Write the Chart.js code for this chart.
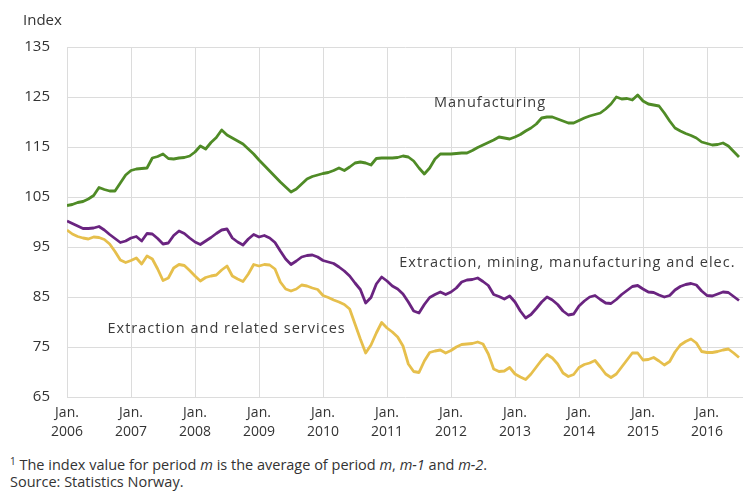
<!DOCTYPE html>
<html>
<head>
<meta charset="utf-8">
<script src="https://cdn.jsdelivr.net/npm/chart.js@4/dist/chart.umd.min.js"></script>
<style>
  body { margin: 0; background: #fff; font-family: "Open Sans", sans-serif; color: #333; }
  #wrap { position: relative; width: 743px; height: 491px; overflow: hidden; }
  #chart { position: absolute; left: 0; top: 0; }
  .note { position: absolute; left: 10px; font-size: 14.5px; white-space: nowrap; letter-spacing: 0px; line-height: 18px; }
  .note sup { font-size: 10px; line-height: 0; vertical-align: 5px; }
</style>
</head>
<body>
<div id="wrap">
  <canvas id="chart" width="743" height="450"></canvas>
  <div class="note" style="top:456px"><sup>1</sup> The index value for period <i>m</i> is the average of period <i>m</i>, <i>m-1</i> and <i>m-2</i>.</div>
  <div class="note" style="top:473px">Source: Statistics Norway.</div>
</div>
<script>
// monthly, Jan 2006 .. Jul 2016 (3-month moving average index)
const startYear = 2006;
const tickYears = [2006, 2007, 2008, 2009, 2010, 2011, 2012, 2013, 2014, 2015, 2016];
const yTicks = [65, 75, 85, 95, 105, 115, 125, 135];

const manufacturing = [
  103.3, 103.5, 103.9, 104.1, 104.6, 105.3, 106.9, 106.5, 106.2, 106.2, 107.8, 109.4,
  110.3, 110.6, 110.7, 110.8, 112.8, 113.1, 113.6, 112.7, 112.6, 112.8, 112.9, 113.2,
  114.0, 115.2, 114.6, 115.9, 116.9, 118.4, 117.4, 116.8, 116.2, 115.6, 114.6, 113.6,
  112.4, 111.3, 110.2, 109.1, 108.0, 107.0, 106.0, 106.6, 107.6, 108.6, 109.1, 109.4,
  109.7, 109.9, 110.3, 110.8, 110.3, 111.0, 111.8, 112.0, 111.8, 111.4, 112.7, 112.8,
  112.8, 112.8, 112.9, 113.2, 113.0, 112.2, 110.8, 109.6, 110.8, 112.6, 113.6, 113.6,
  113.6, 113.7, 113.8, 113.8, 114.3, 114.9, 115.4, 115.9, 116.4, 117.0, 116.8, 116.6,
  117.0, 117.5, 118.2, 118.8, 119.6, 120.8, 121.0, 121.0, 120.6, 120.2, 119.8, 119.8,
  120.3, 120.8, 121.2, 121.5, 121.8, 122.6, 123.6, 125.0, 124.6, 124.7, 124.4, 125.4,
  124.2, 123.6, 123.4, 123.2, 121.8, 120.2, 118.8, 118.2, 117.7, 117.3, 116.8, 116.0,
  115.7, 115.4, 115.5, 115.8, 115.2, 114.1, 113.0
];

const extractionMiningElec = [
  100.2, 99.7, 99.2, 98.7, 98.7, 98.8, 99.1, 98.4, 97.5, 96.7, 95.9, 96.2,
  96.8, 97.1, 96.2, 97.7, 97.6, 96.7, 95.6, 95.8, 97.3, 98.2, 97.7, 96.8,
  96.0, 95.5, 96.2, 96.9, 97.7, 98.4, 98.6, 96.8, 96.0, 95.4, 96.6, 97.5,
  97.0, 97.3, 96.8, 95.9, 94.2, 92.6, 91.5, 92.2, 93.0, 93.3, 93.4, 93.0,
  92.3, 92.0, 91.7, 91.0, 90.2, 89.2, 87.8, 86.5, 83.8, 84.9, 87.6, 89.0,
  88.2, 87.2, 86.6, 85.6, 84.0, 82.2, 81.8, 83.5, 84.9, 85.5, 86.0, 85.5,
  86.0, 86.8, 88.0, 88.4, 88.5, 88.8, 88.1, 87.3, 85.5, 85.1, 84.6, 85.2,
  84.0, 82.2, 80.8, 81.5, 82.7, 84.0, 85.0, 84.4, 83.5, 82.2, 81.4, 81.6,
  83.2, 84.2, 85.0, 85.3, 84.5, 83.8, 83.7, 84.5, 85.5, 86.3, 87.1, 87.3,
  86.6, 86.0, 85.9, 85.4, 85.0, 85.3, 86.4, 87.1, 87.5, 87.7, 87.4, 86.2,
  85.3, 85.2, 85.6, 86.0, 85.9, 85.1, 84.3
];

const extractionServices = [
  98.4, 97.6, 97.1, 96.8, 96.6, 97.0, 96.9, 96.5, 95.6, 94.1, 92.4, 91.9,
  92.3, 92.8, 91.6, 93.2, 92.6, 90.6, 88.3, 88.8, 90.8, 91.5, 91.3, 90.3,
  89.2, 88.2, 88.9, 89.2, 89.4, 90.4, 91.2, 89.2, 88.6, 88.1, 89.6, 91.5,
  91.2, 91.5, 91.4, 90.6, 88.0, 86.6, 86.2, 86.6, 87.4, 87.2, 86.8, 86.5,
  85.3, 84.9, 84.4, 84.0, 83.5, 82.6, 79.6, 76.6, 73.8, 75.4, 77.8, 79.9,
  78.8, 78.0, 77.0, 75.2, 71.6, 70.1, 69.9, 72.2, 73.9, 74.2, 74.4, 73.8,
  74.3, 75.0, 75.5, 75.6, 75.7, 76.0, 75.6, 73.6, 70.6, 70.1, 70.2, 70.9,
  69.6, 69.0, 68.5, 69.6, 71.0, 72.4, 73.5, 72.8, 71.6, 69.8, 69.1, 69.5,
  70.9, 71.5, 71.8, 72.3, 71.0, 69.6, 68.9, 69.6, 71.0, 72.4, 73.8, 73.8,
  72.4, 72.5, 72.9, 72.2, 71.4, 72.1, 74.0, 75.4, 76.1, 76.6, 75.8, 74.1,
  73.9, 73.9, 74.1, 74.4, 74.6, 73.8, 72.9
];

const seriesNames = [
  "Manufacturing",
  "Extraction, mining, manufacturing and elec.",
  "Extraction and related services"
];
const seriesColors = ["#4f8b26", "#6a2480", "#e6bf4c"];

// where the in-chart series labels sit (month index, index value)
const labelAnchors = [[68.8, 123.8], [62.3, 91.8], [7.6, 78.6]];

const FONT = '"Open Sans", sans-serif';
const toPoints = arr => arr.map((v, i) => ({x: i, y: v}));

const textPlugin = {
  id: "texts",
  afterDatasetsDraw(chart) {
    const ctx = chart.ctx;
    const xs = chart.scales.x, ys = chart.scales.y;
    ctx.save();
    ctx.fillStyle = "#333";
    ctx.textBaseline = "middle";
    ctx.textAlign = "left";
    ctx.font = "15px " + FONT;
    ctx.fillText("Index", 23, 21);
    ctx.font = "14.5px " + FONT;
    ctx.letterSpacing = "1px";
    ctx.fillStyle = "#3a3a3a";
    labelAnchors.forEach((a, i) => {
      ctx.fillText(seriesNames[i], xs.getPixelForValue(a[0]), ys.getPixelForValue(a[1]));
    });
    ctx.restore();
  }
};

new Chart(document.getElementById("chart"), {
  type: "line",
  data: {
    datasets: [
      {label: seriesNames[0], data: toPoints(manufacturing), borderColor: seriesColors[0]},
      {label: seriesNames[1], data: toPoints(extractionMiningElec), borderColor: seriesColors[1]},
      {label: seriesNames[2], data: toPoints(extractionServices), borderColor: seriesColors[2]}
    ]
  },
  options: {
    responsive: false,
    animation: false,
    layout: {padding: {top: 47, right: 0, left: 0, bottom: 0}},
    elements: {
      line: {borderWidth: 2.8, tension: 0, borderJoinStyle: "round"},
      point: {radius: 0}
    },
    plugins: {legend: {display: false}, tooltip: {enabled: false}},
    scales: {
      x: {
        type: "linear",
        min: 0,
        max: 126.75,
        afterBuildTicks: s => { s.ticks = tickYears.map(y => ({value: (y - startYear) * 12})); },
        afterFit: s => { s.height = 53; },
        ticks: {
          autoSkip: false,
          maxRotation: 0,
          padding: 7,
          color: "#333",
          font: {family: FONT, size: 14, lineHeight: 1.35},
          callback: v => ["Jan.", String(startYear + v / 12)]
        },
        grid: {color: "#dcdcdc", lineWidth: 1, drawTicks: false},
        border: {display: false}
      },
      y: {
        min: 65,
        max: 135,
        afterBuildTicks: s => { s.ticks = yTicks.map(v => ({value: v})); },
        afterFit: s => { s.width = 67; },
        ticks: {
          padding: 17,
          color: "#333",
          font: {family: FONT, size: 15}
        },
        grid: {color: "#dcdcdc", lineWidth: 1, drawTicks: false},
        border: {display: true, color: "#dcdcdc"}
      }
    }
  },
  plugins: [textPlugin]
});
</script>
</body>
</html>
